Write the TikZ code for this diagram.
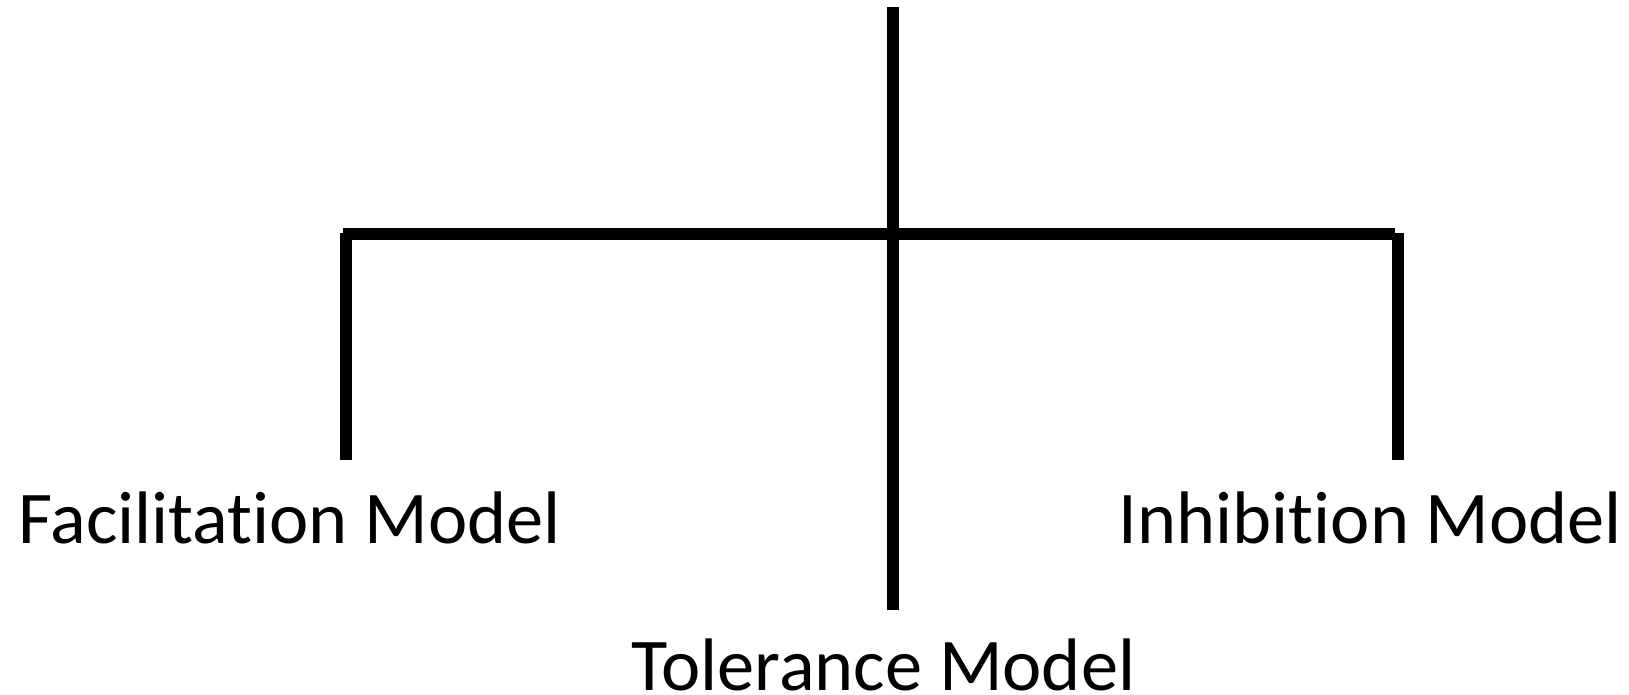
\documentclass[tikz,border=0pt]{standalone}
\usepackage{fontspec}
\setmainfont[Ligatures=NoCommon]{Carlito}
\usepackage{tikz}

\begin{document}
\begin{tikzpicture}[
x=0.5pt,y=-0.5pt,
model/.style={font=\fontsize{37.2}{40}\selectfont,anchor=base,inner sep=0pt},
bar/.style={line width=6pt,black} ]

\useasboundingbox (0,0) rectangle (1629,695);

\coordinate (top) at (892.5,7);

\coordinate (hub) at (892.5,234);

\coordinate (L) at (343,234);

\coordinate (R) at (1395,234);

\coordinate (L1) at (346,233);

\coordinate (L2) at (346,460);

\coordinate (R1) at (1397.5,233);

\coordinate (R2) at (1397.5,460);

\coordinate (M) at (892.5,610);

\node[model] (F) at (289.5,543) {Facilitation Model};

\node[model] (T) at (883.5,690) {Tolerance Model};

\node[model] (I) at (1370.5,543) {Inhibition Model};

\draw[bar] (top) -- (hub);

\draw[bar] (L) -- (R);

\draw[bar] (L1) -- (L2);

\draw[bar] (R1) -- (R2);

\draw[bar] (hub) -- (M);

\end{tikzpicture}
\end{document}
